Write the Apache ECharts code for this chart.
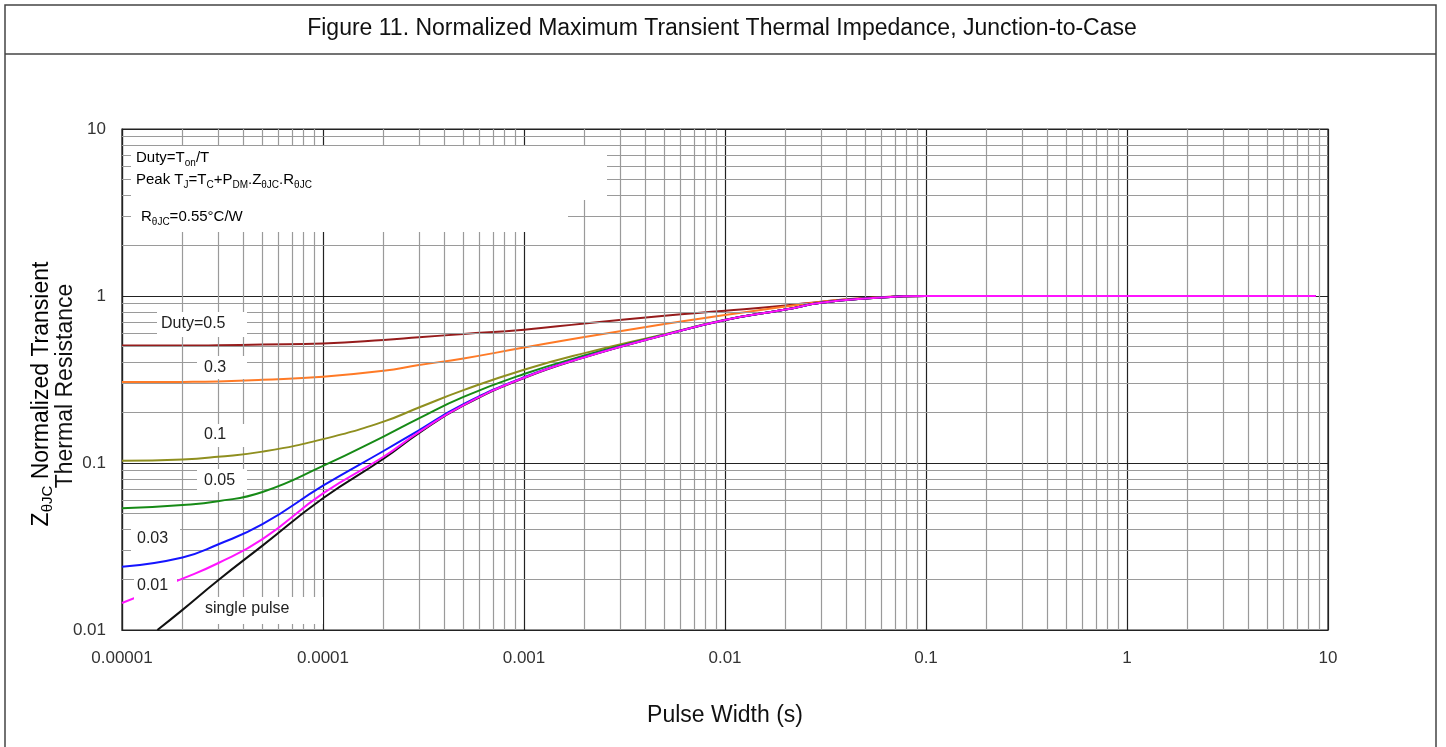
<!DOCTYPE html>
<html>
<head>
<meta charset="utf-8">
<script src="https://cdn.jsdelivr.net/npm/echarts@6/dist/echarts.min.js"></script>
<style>
  html, body { margin: 0; padding: 0; background: #fff; }
  #chart { width: 1446px; height: 747px; }
</style>
</head>
<body>
<div id="chart"></div>
<script>
// pulse width (s) sample points
const pulseWidth = [1e-5, 2e-5, 3e-5, 5e-5, 1e-4, 2e-4, 3e-4, 5e-4, 1e-3, 2e-3, 5e-3, 1e-2, 2e-2, 3e-2, 5e-2, 1e-1, 1, 8.7]
const singleWidth = [1.5e-5, 2e-5, 3e-5, 5e-5, 1e-4, 2e-4, 3e-4, 5e-4, 1e-3, 2e-3, 5e-3, 1e-2, 2e-2, 3e-2, 5e-2, 1e-1, 1, 8.7]

// normalized Z per duty cycle
const duty05 = [0.505, 0.505, 0.507, 0.512, 0.52, 0.545, 0.566, 0.592, 0.628, 0.685, 0.762, 0.816, 0.878, 0.925, 0.973, 1, 1, 1]
const duty03 = [0.305, 0.306, 0.308, 0.315, 0.329, 0.357, 0.386, 0.423, 0.491, 0.568, 0.679, 0.769, 0.865, 0.922, 0.97, 1, 1, 1]
const duty01 = [0.103, 0.105, 0.109, 0.117, 0.139, 0.177, 0.215, 0.273, 0.362, 0.455, 0.59, 0.72, 0.83, 0.91, 0.965, 1, 1, 1]
const duty005 = [0.0536, 0.056, 0.059, 0.067, 0.096, 0.144, 0.185, 0.249, 0.341, 0.44, 0.586, 0.718, 0.83, 0.91, 0.965, 1, 1, 1]
const duty003 = [0.0239, 0.0272, 0.0325, 0.043, 0.0731, 0.118, 0.157, 0.225, 0.326, 0.432, 0.585, 0.718, 0.83, 0.91, 0.965, 1, 1, 1]
const duty001 = [0.0145, 0.0203, 0.0251, 0.035, 0.0658, 0.109, 0.153, 0.222, 0.324, 0.43, 0.584, 0.718, 0.83, 0.91, 0.965, 1, 1, 1]
const single = [0.01, 0.0132, 0.0198, 0.032, 0.0615, 0.106, 0.151, 0.221, 0.323, 0.429, 0.583, 0.717, 0.83, 0.91, 0.965, 1, 1, 1]

const xTickLabels = ['0.00001', '0.0001', '0.001', '0.01', '0.1', '1', '10']
const yTickLabels = ['0.01', '0.1', '1', '10']

const FONT = 'Liberation Sans, Arial, sans-serif'

// minor grid values (2..9 in each decade)
const minorX = []
for (let e = -5; e < 1; e++) for (let k = 2; k <= 9; k++) minorX.push(k * Math.pow(10, e))
const minorY = []
for (let e = -2; e < 1; e++) for (let k = 2; k <= 9; k++) minorY.push(k * Math.pow(10, e))

const pairs = (xs, ys) => xs.map((x, i) => [x, ys[i]])

const curve = (name, xs, ys, color, z) => ({
  name,
  type: 'line',
  data: pairs(xs, ys),
  showSymbol: false,
  smooth: 0.5,
  z: z,
  lineStyle: { color, width: 2 },
  itemStyle: { color }
})

// white label boxes over the grid: [text, boxX, boxY, boxW, boxH, textX, textY]
const curveLabels = [
  ['Duty=0.5', 157, 312, 90, 25, 161, 324],
  ['0.3', 197, 356, 50, 23, 204, 368],
  ['0.1', 197, 424, 50, 23, 204, 435],
  ['0.05', 197, 469, 50, 23, 204, 481],
  ['0.03', 131, 528, 49, 23, 137, 539],
  ['0.01', 134, 574, 43, 29, 137, 586],
  ['single pulse', 202, 597, 121, 27, 205, 609]
]

const graphics = [
  { type: 'rect', z: 100, shape: { x: 5, y: 5, width: 1431, height: 780 },
    style: { fill: 'none', stroke: '#444', lineWidth: 1.5 } },
  { type: 'line', z: 100, shape: { x1: 5, y1: 54, x2: 1436, y2: 54 },
    style: { stroke: '#444', lineWidth: 1.5 } },
  { type: 'text', z: 100, x: 722, y: 29,
    style: { text: 'Figure 11. Normalized Maximum Transient Thermal Impedance, Junction-to-Case',
      font: '23px ' + FONT, fill: '#111', align: 'center', verticalAlign: 'middle' } },
  // annotation area
  { type: 'rect', z: 100, shape: { x: 131, y: 146, width: 476, height: 54 }, style: { fill: '#fff' } },
  { type: 'rect', z: 100, shape: { x: 131, y: 199, width: 437, height: 33 }, style: { fill: '#fff' } },
  { type: 'text', z: 101, x: 136, y: 158,
    style: { text: '{a|Duty=T}{s|on}{a|/T}', align: 'left', verticalAlign: 'middle',
      rich: { a: { fontSize: 15, fontFamily: FONT, color: '#111', lineHeight: 20 },
              s: { fontSize: 10, fontFamily: FONT, color: '#111', lineHeight: 10, verticalAlign: 'bottom' } } } },
  { type: 'text', z: 101, x: 136, y: 180,
    style: { text: '{a|Peak T}{s|J}{a|=T}{s|C}{a|+P}{s|DM}{a|.Z}{s|θJC}{a|.R}{s|θJC}', align: 'left', verticalAlign: 'middle',
      rich: { a: { fontSize: 15, fontFamily: FONT, color: '#111', lineHeight: 20 },
              s: { fontSize: 10, fontFamily: FONT, color: '#111', lineHeight: 10, verticalAlign: 'bottom' } } } },
  { type: 'text', z: 101, x: 141, y: 217,
    style: { text: '{a|R}{s|θJC}{a|=0.55°C/W}', align: 'left', verticalAlign: 'middle',
      rich: { a: { fontSize: 15, fontFamily: FONT, color: '#111', lineHeight: 20 },
              s: { fontSize: 10, fontFamily: FONT, color: '#111', lineHeight: 10, verticalAlign: 'bottom' } } } },
  // y axis title, two lines
  { type: 'text', z: 100, x: 42, y: 394, rotation: Math.PI / 2,
    style: { text: '{a|Z}{s|θJC}{a| Normalized Transient}', align: 'center', verticalAlign: 'middle',
      rich: { a: { fontSize: 23, fontFamily: FONT, color: '#111', lineHeight: 26 },
              s: { fontSize: 15, fontFamily: FONT, color: '#111', lineHeight: 15, verticalAlign: 'bottom' } } } },
  { type: 'text', z: 100, x: 66, y: 386, rotation: Math.PI / 2,
    style: { text: 'Thermal Resistance', font: '23px ' + FONT, fill: '#111', align: 'center', verticalAlign: 'middle' } }
]

curveLabels.forEach(([t, bx, by, bw, bh, tx, ty]) => {
  graphics.push({ type: 'rect', z: 100, shape: { x: bx, y: by, width: bw, height: bh }, style: { fill: '#fff' } })
  graphics.push({ type: 'text', z: 101, x: tx, y: ty,
    style: { text: t, font: '16px ' + FONT, fill: '#222', align: 'left', verticalAlign: 'middle' } })
})

const myChart = echarts.init(document.getElementById('chart'), null, { renderer: 'canvas' })

const option = {
  animation: false,
  backgroundColor: '#fff',
  grid: { left: 122, right: 118, top: 129, bottom: 117, show: true, borderColor: '#222', borderWidth: 1.2 },
  xAxis: {
    type: 'log',
    logBase: 10,
    min: 1e-5,
    max: 10,
    splitNumber: 6,
    name: 'Pulse Width (s)',
    nameLocation: 'middle',
    nameGap: 74,
    nameTextStyle: { fontSize: 23, fontFamily: FONT, color: '#111' },
    axisLine: { show: true, lineStyle: { color: '#222', width: 1.2 } },
    axisTick: { show: false },
    axisLabel: {
      margin: 20,
      fontSize: 17,
      fontFamily: FONT,
      color: '#333',
      formatter: v => xTickLabels[Math.round(Math.log10(v)) + 5]
    },
    splitLine: { show: true, lineStyle: { color: '#222', width: 1.2 } }
  },
  yAxis: {
    type: 'log',
    logBase: 10,
    min: 0.01,
    max: 10,
    splitNumber: 3,
    axisLine: { show: true, lineStyle: { color: '#222', width: 1.2 } },
    axisTick: { show: false },
    axisLabel: {
      margin: 16,
      fontSize: 17,
      fontFamily: FONT,
      color: '#333',
      formatter: v => yTickLabels[Math.round(Math.log10(v)) + 2]
    },
    splitLine: { show: true, lineStyle: { color: '#222', width: 1.2 } }
  },
  graphic: graphics,
  series: [
    {
      // carries the minor grid lines
      name: 'grid',
      type: 'line',
      data: [[1e-5, 0.01]],
      showSymbol: false,
      silent: true,
      z: 1,
      lineStyle: { opacity: 0 },
      markLine: {
        silent: true,
        precision: 12,
        symbol: ['none', 'none'],
        label: { show: false },
        lineStyle: { color: '#9a9a9a', width: 1.2, type: 'solid' },
        emphasis: { disabled: true },
        data: minorX.map(v => ({ xAxis: v })).concat(minorY.map(v => ({ yAxis: v })))
      }
    },
    curve('Duty=0.5', pulseWidth, duty05, '#961c1c', 3),
    curve('0.3', pulseWidth, duty03, '#ff7a26', 4),
    curve('0.1', pulseWidth, duty01, '#8f8f1f', 5),
    curve('0.05', pulseWidth, duty005, '#168a16', 6),
    curve('0.03', pulseWidth, duty003, '#1414ff', 7),
    curve('single pulse', singleWidth, single, '#111111', 8),
    curve('0.01', pulseWidth, duty001, '#ff14ff', 9)
  ]
}

myChart.setOption(option)
</script>
</body>
</html>
